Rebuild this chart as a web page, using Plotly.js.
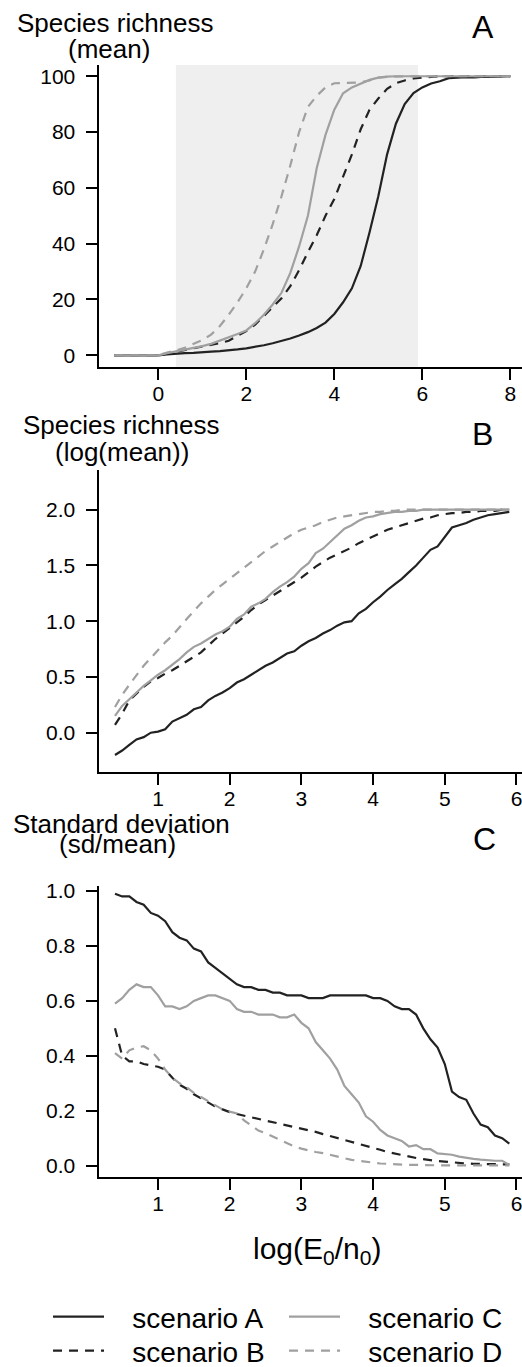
<!DOCTYPE html>
<html>
<head>
<meta charset="utf-8">
<script src="https://cdn.plot.ly/plotly-3.0.1.min.js"></script>
<style>html,body{margin:0;padding:0;background:#fff;}#chart{width:522px;height:1367px;}</style>
</head>
<body>
<div id="chart"></div>
<script>
// ---- Panel A: mean species richness vs log(E0/n0) ----
const xMean = [-1,-0.8,-0.6,-0.4,-0.2,0,0.2,0.4,0.6,0.8,1.0,1.2,1.4,1.6,1.8,2.0,2.2,2.4,2.6,2.8,3.0,3.2,3.4,3.6,3.8,4.0,4.2,4.4,4.6,4.8,5.0,5.2,5.4,5.6,5.8,6.0,6.2,6.4,6.6,6.8,7.0,7.2,7.4,7.6,7.8,8.0];
const meanA = [0,0,0,0,0,0,0.3,0.6,0.8,0.9,1.0,1.3,1.5,1.7,2.1,2.5,3.0,3.6,4.3,5.1,6.0,7.1,8.3,9.8,11.7,14.8,19,24,32,44,57,72,83,90,94,96,97.4,98.2,99.3,99.5,99.7,99.6,99.9,99.8,99.9,100];
const meanB = [0,0,0,0,0,0,0.6,1.2,1.9,2.6,3.1,3.6,4.4,5.2,6.9,8.7,11.0,14.1,17.0,20.4,24.8,30.5,37,43,50,56,64,72,81,88,92,95.5,97.5,98.5,99.2,99.6,99.8,100,100,100,100,100,100,100,100,100];
const meanC = [0,0,0,0,0,0,0.8,1.4,2.0,2.6,3.3,4.1,5.2,6.3,7.6,8.9,11.5,14.5,18.2,22.4,29.5,39,50,67,79,88,93.9,96,97.3,98.7,99.5,99.9,100,100,100,100,100,100,100,100,100,100,100,100,100,100];
const meanD = [0,0,0,0,0,0,1.0,1.7,2.7,4.0,5.5,7.4,10.5,14.5,19,24,30,38,47,57,68,80,89,93,96,97.5,97.6,97.7,97.8,98.5,99.5,99.8,100,100,100,100,100,100,100,100,100,100,100,100,100,100];
const shadedRange = [0.4, 5.9];

// ---- Panels B and C: x grid ----
const xLog = [0.4,0.5,0.6,0.7,0.8,0.9,1.0,1.1,1.2,1.3,1.4,1.5,1.6,1.7,1.8,1.9,2.0,2.1,2.2,2.3,2.4,2.5,2.6,2.7,2.8,2.9,3.0,3.1,3.2,3.3,3.4,3.5,3.6,3.7,3.8,3.9,4.0,4.1,4.2,4.3,4.4,4.5,4.6,4.7,4.8,4.9,5.0,5.1,5.2,5.3,5.4,5.5,5.6,5.7,5.8,5.9];

// Panel B: log(mean)
const logA = [-0.20,-0.16,-0.11,-0.06,-0.04,0.00,0.01,0.03,0.10,0.13,0.16,0.21,0.23,0.29,0.33,0.36,0.40,0.45,0.48,0.52,0.56,0.60,0.63,0.67,0.71,0.73,0.78,0.82,0.85,0.89,0.92,0.96,0.99,1.00,1.07,1.11,1.17,1.22,1.28,1.33,1.38,1.44,1.50,1.57,1.64,1.67,1.76,1.84,1.86,1.88,1.91,1.93,1.95,1.96,1.97,1.98];
const logB = [0.07,0.17,0.29,0.35,0.41,0.46,0.49,0.53,0.56,0.60,0.64,0.68,0.72,0.78,0.84,0.89,0.94,0.99,1.04,1.10,1.15,1.19,1.23,1.27,1.31,1.35,1.39,1.44,1.49,1.53,1.57,1.60,1.63,1.66,1.70,1.73,1.76,1.79,1.82,1.84,1.86,1.88,1.90,1.92,1.93,1.95,1.96,1.97,1.97,1.98,1.98,1.99,1.99,1.99,2.00,2.00];
const logC = [0.15,0.24,0.30,0.36,0.42,0.47,0.52,0.56,0.61,0.66,0.72,0.77,0.80,0.84,0.88,0.91,0.95,1.02,1.06,1.13,1.16,1.20,1.26,1.31,1.35,1.40,1.47,1.52,1.61,1.65,1.71,1.77,1.83,1.86,1.90,1.93,1.94,1.96,1.97,1.98,1.98,1.99,1.99,2.00,2.00,2.00,2.00,2.00,2.00,2.00,2.00,2.00,2.00,2.00,2.00,2.00];
const logD = [0.23,0.34,0.43,0.52,0.60,0.67,0.74,0.81,0.87,0.95,1.02,1.09,1.16,1.22,1.28,1.33,1.38,1.43,1.48,1.53,1.58,1.63,1.67,1.71,1.75,1.79,1.82,1.84,1.86,1.89,1.91,1.93,1.94,1.95,1.96,1.97,1.98,1.98,1.99,1.99,2.00,2.00,2.00,2.00,2.00,2.00,2.00,2.00,2.00,2.00,2.00,2.00,2.00,2.00,2.00,2.00];

// Panel C: sd/mean
const sdA = [0.99,0.98,0.98,0.96,0.95,0.92,0.91,0.89,0.85,0.83,0.82,0.79,0.78,0.74,0.72,0.70,0.68,0.66,0.65,0.65,0.64,0.64,0.63,0.63,0.62,0.62,0.62,0.61,0.61,0.61,0.62,0.62,0.62,0.62,0.62,0.62,0.61,0.61,0.60,0.58,0.57,0.57,0.55,0.50,0.46,0.43,0.37,0.27,0.25,0.24,0.19,0.15,0.14,0.11,0.10,0.08];
const sdB = [0.50,0.40,0.38,0.38,0.37,0.365,0.36,0.35,0.32,0.295,0.28,0.26,0.245,0.23,0.215,0.205,0.195,0.188,0.182,0.176,0.171,0.166,0.160,0.153,0.147,0.141,0.135,0.130,0.123,0.115,0.108,0.101,0.094,0.088,0.080,0.073,0.066,0.058,0.050,0.044,0.038,0.033,0.028,0.024,0.020,0.017,0.015,0.012,0.010,0.008,0.007,0.006,0.006,0.005,0.005,0.005];
const sdC = [0.59,0.61,0.64,0.66,0.65,0.65,0.62,0.58,0.58,0.57,0.58,0.60,0.61,0.62,0.62,0.61,0.60,0.57,0.56,0.56,0.55,0.55,0.55,0.54,0.54,0.55,0.52,0.50,0.45,0.42,0.39,0.35,0.29,0.26,0.23,0.18,0.16,0.13,0.11,0.10,0.09,0.07,0.075,0.06,0.06,0.045,0.042,0.04,0.033,0.028,0.025,0.022,0.019,0.018,0.018,0.003];
const sdD = [0.41,0.39,0.42,0.43,0.435,0.42,0.39,0.35,0.32,0.30,0.285,0.265,0.25,0.235,0.22,0.205,0.197,0.19,0.165,0.145,0.128,0.118,0.106,0.093,0.08,0.07,0.062,0.055,0.05,0.046,0.04,0.035,0.027,0.021,0.018,0.014,0.011,0.008,0.007,0.005,0.004,0.003,0.003,0.002,0.002,0.002,0.001,0.001,0.001,0.001,0.001,0.001,0.001,0.001,0.001,0.001];

// ---- tick labels ----
const ticksMeanX = [0,2,4,6,8];
const ticksMeanY = [0,20,40,60,80,100];
const ticksLogX = [1,2,3,4,5,6];
const ticksLogY = [0,0.5,1,1.5,2];
const ticksSdY = [0,0.2,0.4,0.6,0.8,1];

const scenarioNames = ['scenario A','scenario B','scenario C','scenario D'];
const BLACK = '#222222', GRAY = '#a0a0a0';
const styles = [
  {color: BLACK, dash: 'solid'},
  {color: BLACK, dash: '9px,7px'},
  {color: GRAY, dash: 'solid'},
  {color: GRAY, dash: '9px,7px'}
];
const legendIds = ['legend', 'legend2', 'legend3', 'legend4'];

const panels = [
  {x: xMean, ys: [meanA, meanB, meanC, meanD], xa: 'x', ya: 'y', legend: true},
  {x: xLog, ys: [logA, logB, logC, logD], xa: 'x2', ya: 'y2', legend: false},
  {x: xLog, ys: [sdA, sdB, sdC, sdD], xa: 'x3', ya: 'y3', legend: false}
];

const traces = [];
panels.forEach(p => {
  p.ys.forEach((y, i) => {
    traces.push({
      type: 'scatter', mode: 'lines', x: p.x, y: y,
      xaxis: p.xa, yaxis: p.ya,
      name: '\u00a0\u00a0\u00a0' + scenarioNames[i], showlegend: p.legend, legend: legendIds[i],
      line: {color: styles[i].color, dash: styles[i].dash, width: 2.2},
      hoverinfo: 'skip'
    });
  });
});

const FONT = 'Liberation Sans, Arial, Helvetica, sans-serif';
function ax(extra) {
  return Object.assign({
    showline: true, linecolor: '#000', linewidth: 2.5,
    ticks: 'outside', ticklen: 11, tickwidth: 2, tickcolor: '#000',
    showgrid: false, zeroline: false, fixedrange: true,
    ticklabeloverflow: 'allow',
    tickfont: {family: FONT, size: 21, color: '#000'}
  }, extra);
}
const W = 522, H = 1367, L = 99, PW = 423;
const py = v => 1 - v / H;   // pixel row -> paper y
const px = v => (v - L) / PW; // pixel column -> paper x

function ann(text, x, y, size) {
  return {text: text, xref: 'paper', yref: 'paper', x: px(x), y: py(y),
    xanchor: 'center', yanchor: 'middle', showarrow: false,
    font: {family: FONT, size: size, color: '#000'}};
}
function leg(x, y) {
  return {
    orientation: 'h', xref: 'container', yref: 'container',
    x: x / W, y: 1 - y / H, xanchor: 'left', yanchor: 'top',
    itemwidth: 51,
    font: {family: FONT, size: 28, color: '#000'},
    bgcolor: 'rgba(0,0,0,0)', borderwidth: 0
  };
}

const layout = {
  width: W, height: H,
  margin: {l: L, r: 0, t: 0, b: 0, autoexpand: false},
  paper_bgcolor: '#ffffff', plot_bgcolor: 'rgba(0,0,0,0)',
  font: {family: FONT, color: '#000', size: 21},
  xaxis: ax({domain: [0, 1], anchor: 'y', range: [-1.348, 8.266], tickvals: ticksMeanX, ticklabelstandoff: -4}),
  yaxis: ax({domain: [py(366.7), py(65.1)], anchor: 'x', range: [-4.09, 104.0], tickvals: ticksMeanY, ticklabelstandoff: 6}),
  xaxis2: ax({domain: [0, 1], anchor: 'y2', range: [0.177, 6.077], tickvals: ticksLogX, ticklabelstandoff: -4}),
  yaxis2: ax({domain: [py(771.7), py(470)], anchor: 'x2', range: [-0.35, 2.356], tickvals: ticksLogY, tickformat: '.1f', ticklabelstandoff: 6}),
  xaxis3: ax({domain: [0, 1], anchor: 'y3', range: [0.177, 6.077], tickvals: ticksLogX, ticklabelstandoff: -4}),
  yaxis3: ax({domain: [py(1176.7), py(886)], anchor: 'x3', range: [-0.04, 1.018], tickvals: ticksSdY, tickformat: '.1f', ticklabelstandoff: 6}),
  shapes: [{
    type: 'rect', xref: 'x', yref: 'y domain', x0: shadedRange[0], x1: shadedRange[1], y0: 0, y1: 1,
    fillcolor: '#efefef', line: {width: 0}, layer: 'below'
  }],
  annotations: [
    ann('Species richness', 115.5, 22.7, 26),
    ann('(mean)', 109, 48.5, 26),
    ann('A', 483.3, 27, 32),
    ann('Species richness', 121.5, 425.3, 26),
    ann('(log(mean))', 121.5, 451.8, 26),
    ann('B', 482.3, 434, 32),
    ann('Standard deviation', 121.5, 823.7, 26),
    ann('(sd/mean)', 117.5, 843.5, 26),
    ann('C', 484, 839, 32),
    ann('log(E<sub>0</sub>/n<sub>0</sub>)', 317, 1250, 30)
  ],
  showlegend: true,
  legend: leg(48, 1292),
  legend2: leg(48, 1326),
  legend3: leg(284, 1292),
  legend4: leg(284, 1326)
};

Plotly.newPlot('chart', traces, layout, {displayModeBar: false, staticPlot: true});
</script>
</body>
</html>
